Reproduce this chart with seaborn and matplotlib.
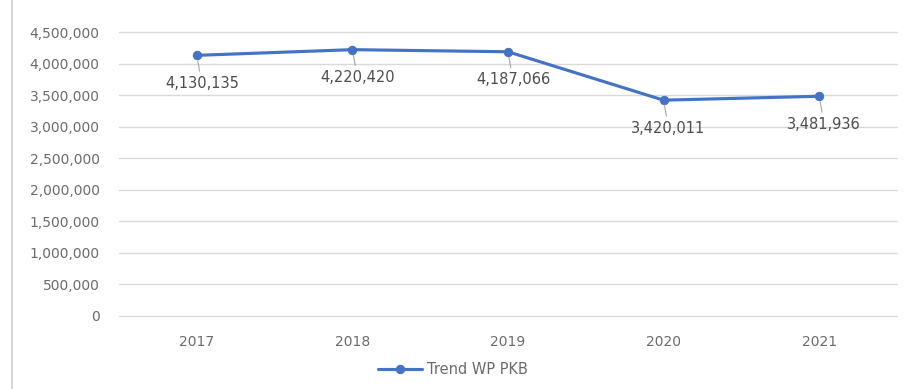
import matplotlib
matplotlib.use("Agg")
import matplotlib.pyplot as plt
import seaborn as sns
import pandas as pd
from matplotlib.ticker import FuncFormatter, MultipleLocator

years = ["2017", "2018", "2019", "2020", "2021"]
wp_pkb = [4130135, 4220420, 4187066, 3420011, 3481936]
series_name = "Trend WP PKB"

df = pd.DataFrame({"Tahun": years, "WP": wp_pkb})

sns.set_theme(style="white")
plt.rcParams["font.family"] = ["DejaVu Sans"]

fig = plt.figure(figsize=(9.06, 3.89), dpi=100)
ax = fig.add_axes([0.1313, 0.1877, 0.8587, 0.7300])

line_color = "#4472C4"
sns.lineplot(data=df, x="Tahun", y="WP", ax=ax, color=line_color, linewidth=2.25,
             marker="o", markersize=6, markeredgecolor=line_color,
             label=series_name, sort=False)

ax.set_xlim(-0.5, len(years) - 0.5)
ax.set_ylim(0, 4500000)
ax.yaxis.set_major_locator(MultipleLocator(500000))
ax.yaxis.set_major_formatter(FuncFormatter(lambda v, _: f"{int(v):,}"))
ax.grid(axis="y", color="#D9D9D9", linewidth=1.0)
for gl in ax.get_ygridlines():
    gl.set_clip_on(False)
ax.set_axisbelow(True)
for s in ax.spines.values():
    s.set_visible(False)
ax.set_xlabel("")
ax.set_ylabel("")
ax.tick_params(axis="y", length=0, pad=14, labelsize=10, labelcolor="#6B6B6B")
ax.tick_params(axis="x", length=0, pad=14, labelsize=10, labelcolor="#6B6B6B")

# value labels under each point with thin leader lines
for i, v in enumerate(wp_pkb):
    ax.annotate(f"{v:,}", xy=(i, v), xytext=(5, -28), textcoords="offset pixels",
                ha="center", va="center", fontsize=10.5, color="#4D4D4D",
                arrowprops=dict(arrowstyle="-", color="#A6A6A6", lw=0.8,
                                shrinkA=1, shrinkB=4))

ax.get_legend().remove()
handles, labels = ax.get_legend_handles_labels()
fig.legend(handles, labels, loc="center", bbox_to_anchor=(0.5, 0.049),
           frameon=False, fontsize=10.5, handlelength=3.0, handletextpad=0.3,
           labelcolor="#6B6B6B")

# chart border on the left
fig.add_artist(plt.Line2D([12 / 906, 12 / 906], [0, 1], transform=fig.transFigure,
                          color="#D0D0D0", linewidth=1.2))

fig.savefig("out.png", dpi=100)
